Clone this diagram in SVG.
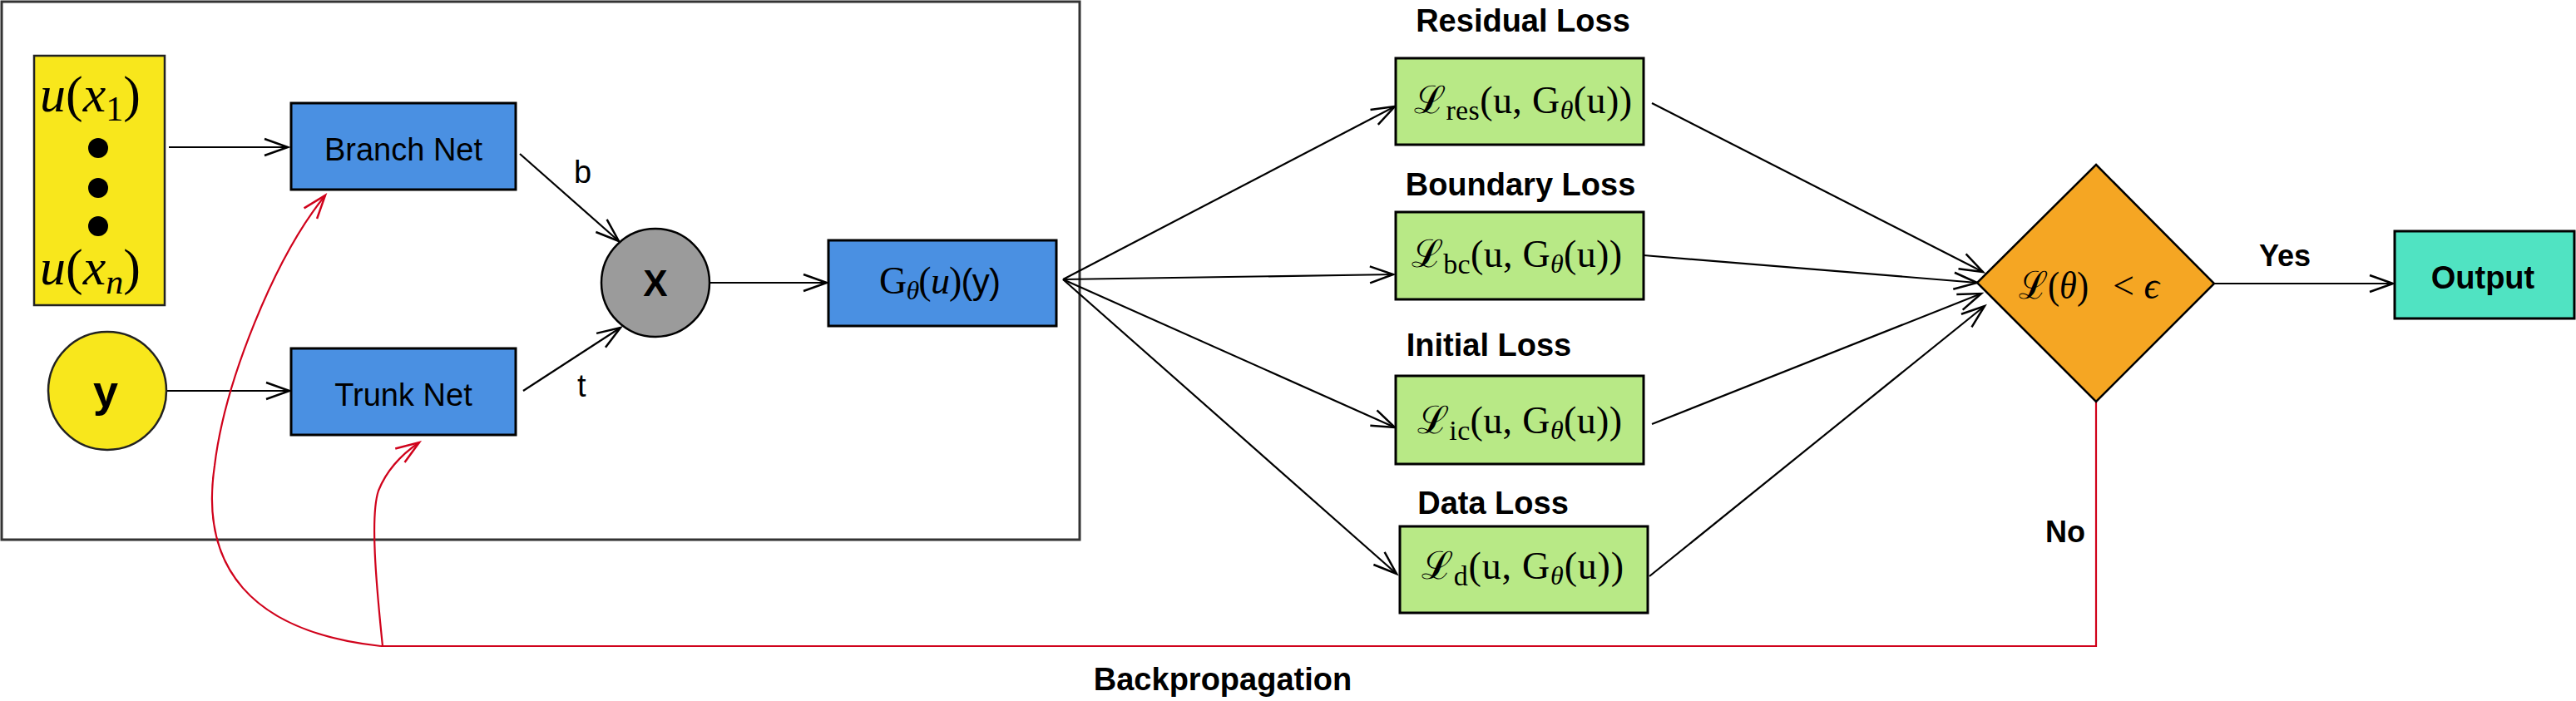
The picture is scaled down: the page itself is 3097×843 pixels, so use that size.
<svg xmlns="http://www.w3.org/2000/svg" width="3097" height="843" viewBox="0 0 3097 843">
<style>
.lbl{font-family:"Liberation Sans",Arial,sans-serif;font-weight:bold;font-size:38px;fill:#000}
.net{font-family:"Liberation Sans",Arial,sans-serif;font-size:38px;fill:#000}
.math{font-family:"Liberation Serif","DejaVu Serif",serif;font-size:46px;fill:#000}
.it{font-style:italic}
.box{stroke:#000;stroke-width:3}
.blue{fill:#4A90E2}
.green{fill:#B8E986}
.edge{fill:none;stroke:#000;stroke-width:2.2}
.red{fill:none;stroke:#D0021B;stroke-width:2.2}
</style>
<defs>
<marker id="ah" markerUnits="userSpaceOnUse" markerWidth="34" markerHeight="26" refX="28" refY="10" orient="auto" overflow="visible">
<path d="M0,0 L28,10 L0,20" fill="none" stroke="#000" stroke-width="2.5"/>
</marker>
<marker id="ahr" markerUnits="userSpaceOnUse" markerWidth="34" markerHeight="26" refX="28" refY="10" orient="auto" overflow="visible">
<path d="M0,0 L28,10 L0,20" fill="none" stroke="#D0021B" stroke-width="2.5"/>
</marker>
</defs>
<rect width="3097" height="843" fill="#fff"/>

<g id="frame">
<rect x="2" y="2" width="1296" height="647" fill="none" stroke="#333" stroke-width="3"/>
</g>

<g id="connectors">
<line class="edge" x1="203" y1="177" x2="346" y2="177" marker-end="url(#ah)"/>
<line class="edge" x1="200" y1="470" x2="348" y2="470" marker-end="url(#ah)"/>
<line class="edge" x1="625" y1="185" x2="744" y2="290" marker-end="url(#ah)"/>
<line class="edge" x1="629" y1="470" x2="746" y2="394" marker-end="url(#ah)"/>
<line class="edge" x1="853" y1="340" x2="994" y2="340" marker-end="url(#ah)"/>
<line class="edge" x1="1278" y1="336" x2="1677" y2="128" marker-end="url(#ah)"/>
<line class="edge" x1="1278" y1="336" x2="1675" y2="330" marker-end="url(#ah)"/>
<line class="edge" x1="1278" y1="336" x2="1677" y2="514" marker-end="url(#ah)"/>
<line class="edge" x1="1278" y1="336" x2="1679" y2="690" marker-end="url(#ah)"/>
<line class="edge" x1="1986" y1="124" x2="2384" y2="327" marker-end="url(#ah)"/>
<line class="edge" x1="1976" y1="307" x2="2377" y2="340" marker-end="url(#ah)"/>
<line class="edge" x1="1986" y1="510" x2="2382" y2="353" marker-end="url(#ah)"/>
<line class="edge" x1="1983" y1="693" x2="2386" y2="368" marker-end="url(#ah)"/>
<line class="edge" x1="2662" y1="341" x2="2877" y2="341" marker-end="url(#ah)"/>
<path class="red" d="M2520,483 L2520,777 L458,777"/>
<path class="red" d="M458,777 C300,760 240,680 258,560 C270,460 330,310 391,235" marker-end="url(#ahr)"/>
<path class="red" d="M460,777 C452,700 445,620 455,590 C465,565 485,545 504,532" marker-end="url(#ahr)"/>
<text class="net" x="690" y="220">b</text>
<text class="net" x="694" y="477">t</text>
<text class="lbl" x="2716" y="320" style="font-size:36px">Yes</text>
<text class="lbl" x="2459" y="652" style="font-size:36px">No</text>
<text class="lbl" x="1470" y="830" text-anchor="middle">Backpropagation</text>
</g>

<g id="inputs">
<rect x="41" y="67" width="157" height="300" fill="#F8E71C" stroke="#222" stroke-width="2.5"/>
<text class="math" x="48" y="134" style="font-size:62px"><tspan class="it">u</tspan>(<tspan class="it">x</tspan><tspan style="font-size:42px" dy="11">1</tspan><tspan dy="-11">)</tspan></text>
<circle cx="118" cy="178" r="12" fill="#000"/>
<circle cx="118" cy="226" r="12" fill="#000"/>
<circle cx="118" cy="272" r="12" fill="#000"/>
<text class="math" x="48" y="342" style="font-size:62px"><tspan class="it">u</tspan>(<tspan class="it">x</tspan><tspan class="it" style="font-size:42px" dy="11">n</tspan><tspan dy="-11">)</tspan></text>
</g>

<g id="y-input">
<circle cx="129" cy="470" r="71" fill="#F8E71C" stroke="#222" stroke-width="2.5"/>
<text class="lbl" x="127" y="489" text-anchor="middle" style="font-size:54px">y</text>
</g>

<g id="branch-net">
<rect class="box blue" x="350" y="124" width="270" height="104"/>
<text class="net" x="485" y="193" text-anchor="middle">Branch Net</text>
</g>

<g id="trunk-net">
<rect class="box blue" x="350" y="419" width="270" height="104"/>
<text class="net" x="485" y="488" text-anchor="middle">Trunk Net</text>
</g>

<g id="product">
<circle cx="788" cy="340" r="65" fill="#9B9B9B" stroke="#000" stroke-width="2.5"/>
<text class="lbl" x="788" y="356" text-anchor="middle" style="font-size:44px">X</text>
</g>

<g id="operator">
<rect class="box blue" x="996" y="289" width="274" height="103"/>
<text class="math" x="1057" y="353" textLength="146" lengthAdjust="spacing">G<tspan class="it" style="font-size:32px" dy="7">θ</tspan><tspan dy="-7">(</tspan><tspan class="it">u</tspan>)<tspan style="font-family:'Liberation Sans',Arial,sans-serif;font-size:42px">(y)</tspan></text>
</g>

<g id="residual-loss">
<text class="lbl" x="1831" y="38" text-anchor="middle">Residual Loss</text>
<rect class="box green" x="1678" y="70" width="298" height="104"/>
<text class="math" x="1700" y="136" textLength="262" lengthAdjust="spacing">ℒ<tspan style="font-size:34px" dy="8">res</tspan><tspan dy="-8">(u, G</tspan><tspan class="it" style="font-size:32px" dy="7">θ</tspan><tspan dy="-7">(u))</tspan></text>
</g>

<g id="boundary-loss">
<text class="lbl" x="1828" y="235" text-anchor="middle">Boundary Loss</text>
<rect class="box green" x="1678" y="255" width="298" height="105"/>
<text class="math" x="1697" y="321" textLength="253" lengthAdjust="spacing">ℒ<tspan style="font-size:34px" dy="8">bc</tspan><tspan dy="-8">(u, G</tspan><tspan class="it" style="font-size:32px" dy="7">θ</tspan><tspan dy="-7">(u))</tspan></text>
</g>

<g id="initial-loss">
<text class="lbl" x="1790" y="428" text-anchor="middle">Initial Loss</text>
<rect class="box green" x="1678" y="452" width="298" height="106"/>
<text class="math" x="1704" y="521" textLength="246" lengthAdjust="spacing">ℒ<tspan style="font-size:34px" dy="8">ic</tspan><tspan dy="-8">(u, G</tspan><tspan class="it" style="font-size:32px" dy="7">θ</tspan><tspan dy="-7">(u))</tspan></text>
</g>

<g id="data-loss">
<text class="lbl" x="1795" y="618" text-anchor="middle">Data Loss</text>
<rect class="box green" x="1683" y="633" width="298" height="104"/>
<text class="math" x="1709" y="696" textLength="243" lengthAdjust="spacing">ℒ<tspan style="font-size:34px" dy="8">d</tspan><tspan dy="-8">(u, G</tspan><tspan class="it" style="font-size:32px" dy="7">θ</tspan><tspan dy="-7">(u))</tspan></text>
</g>

<g id="decision">
<polygon points="2520,198 2662,341 2520,483 2377,340" fill="#F5A623" stroke="#000" stroke-width="2.5"/>
<text class="math" x="2427" y="359" textLength="84" lengthAdjust="spacingAndGlyphs">ℒ(<tspan class="it">θ</tspan>)</text>
<text class="math" x="2540" y="359">&lt; <tspan class="it">ϵ</tspan></text>
</g>

<g id="output">
<rect class="box" x="2879" y="278" width="216" height="105" fill="#50E3C2"/>
<text class="lbl" x="2985" y="347" text-anchor="middle">Output</text>
</g>
</svg>
